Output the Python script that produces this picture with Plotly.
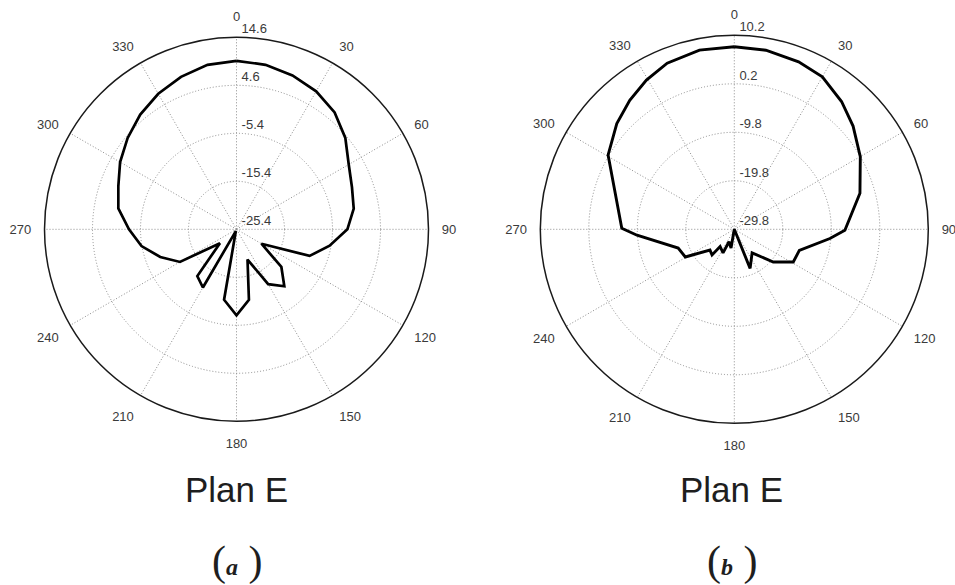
import plotly.graph_objects as go

# E-plane radiation patterns (gain in dB versus angle in degrees)
theta_a = [0, 10, 20, 30, 40, 50, 60, 70, 80, 90, 100, 110, 120, 130, 140, 150,
           160, 170, 180, 190, 200, 210, 220, 230, 240, 250, 260, 270, 280, 290,
           300, 310, 320, 330, 340, 350, 360]
gain_a = [9.7, 9.4, 8.7, 7.8, 6.4, 4.2, 1.6, 0.2, -0.6, -2.3, -5.7, -9.2, -19.4,
          -13.2, -9.9, -12.2, -18.7, -10.5, -7.5, -10.5, -25.0, -11.4, -12.7,
          -20.9, -11.8, -8.5, -5.3, -3.0, -0.4, 0.8, 2.6, 4.2, 5.8, 7.2, 8.4,
          9.4, 9.7]

theta_b = [0, 10, 21, 30, 40, 49, 60, 74, 90.5, 95.5, 108, 119, 130, 143, 158,
           178, 190, 203, 205.5, 219.5, 221, 229.5, 240.5, 251.5, 266.5, 270.5,
           300.5, 312, 321, 329.5, 338, 349, 360]
gain_b = [7.85, 7.7, 7.2, 6.5, 4.6, 2.65, 0.2, -2.85, -7.0, -10.0, -15.7, -15.9,
          -19.3, -23.7, -21.1, -29.8, -25.9, -27.0, -24.4, -25.2, -22.8, -23.2,
          -18.2, -17.6, -9.7, -6.6, 0.4, 2.8, 4.45, 5.9, 7.15, 7.85, 7.85]

ticks_a = [-25.4, -15.4, -5.4, 4.6, 14.6]
ticks_b = [-29.8, -19.8, -9.8, 0.2, 10.2]
angle_ticks = list(range(0, 360, 30))

W, H = 955, 585
GRID = "#8c8c8c"
TXT = "#3a3a3a"
DOTS = "1px,2px"


def domain(cx, cy, r):
    return dict(x=[(cx - r) / W, (cx + r) / W],
                y=[1 - (cy + r) / H, 1 - (cy - r) / H])


def polar_layout(dom, ticks):
    return dict(
        domain=dom,
        bgcolor="white",
        angularaxis=dict(
            rotation=90, direction="clockwise",
            tickmode="array", tickvals=angle_ticks,
            ticktext=[str(a) for a in angle_ticks],
            ticks="outside", ticklen=10, tickcolor="rgba(0,0,0,0)",
            showline=True, linecolor="#1a1a1a", linewidth=1.5,
            showgrid=True, gridcolor=GRID, griddash=DOTS, gridwidth=1,
            tickfont=dict(family="Liberation Sans, Arial", size=13, color=TXT),
        ),
        radialaxis=dict(
            range=[ticks[0], ticks[-1]], tickmode="array", tickvals=ticks,
            ticktext=[f"{t:.1f}<br> " for t in ticks],
            angle=90, tickangle=90, side="clockwise",
            showline=False, ticks="outside", ticklen=2,
            tickcolor="rgba(0,0,0,0)",
            showgrid=True, gridcolor=GRID, griddash=DOTS, gridwidth=1,
            tickfont=dict(family="Liberation Sans, Arial", size=13, color=TXT),
        ),
    )


fig = go.Figure()
fig.add_trace(go.Scatterpolar(r=gain_a, theta=theta_a, mode="lines",
                              line=dict(color="black", width=2.7),
                              subplot="polar", showlegend=False))
fig.add_trace(go.Scatterpolar(r=gain_b, theta=theta_b, mode="lines",
                              line=dict(color="black", width=2.9),
                              subplot="polar2", showlegend=False))

tag_html = ('<span style="font-size:42px">(</span>'
            '<b><i>{}</i></b>'
            '<span style="font-size:42px"> )</span>')
captions = [("Plan E", 236, "a"), ("Plan E", 731, "b")]
annotations = []
for title, cx, letter in captions:
    annotations.append(dict(text=title, x=cx / W, y=1 - 489 / H, xref="paper",
                            yref="paper", xanchor="center", yanchor="middle",
                            showarrow=False,
                            font=dict(family="Liberation Sans, Arial", size=35,
                                      color="#1e1e1e")))
    annotations.append(dict(text=tag_html.format(letter), x=(cx + 1) / W,
                            y=1 - 561 / H, xref="paper", yref="paper",
                            xanchor="center", yanchor="middle",
                            showarrow=False,
                            font=dict(family="Liberation Serif, Times New Roman",
                                      size=24, color="#1e1e1e")))

fig.update_layout(
    width=W, height=H,
    margin=dict(l=0, r=0, t=0, b=0),
    paper_bgcolor="white",
    template="none",
    polar=polar_layout(domain(236.5, 229.3, 192), ticks_a),
    polar2=polar_layout(domain(734.3, 229.3, 194), ticks_b),
    annotations=annotations,
)

fig.write_html("out.html")
